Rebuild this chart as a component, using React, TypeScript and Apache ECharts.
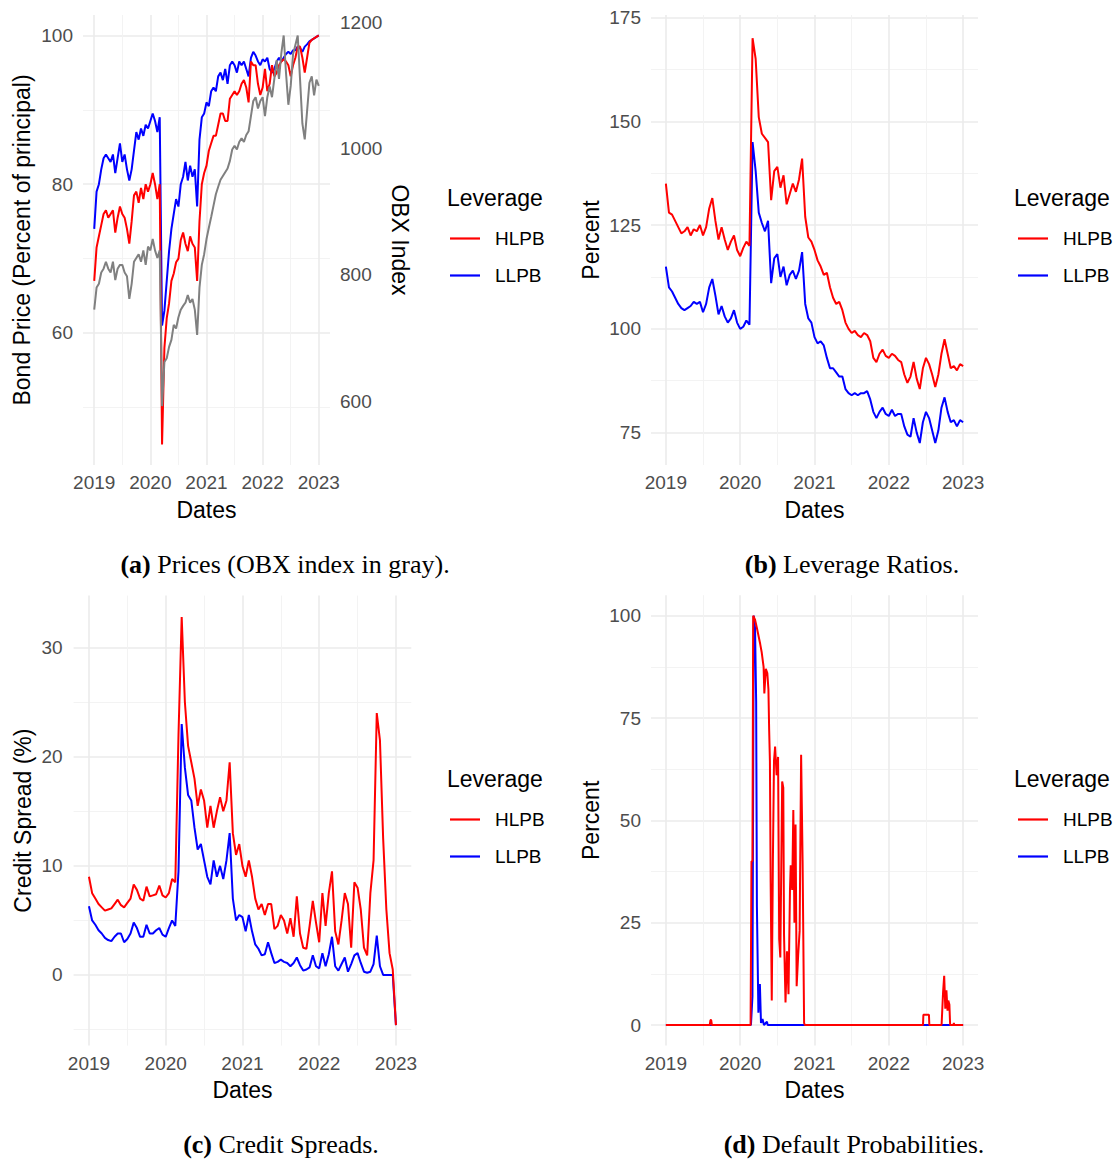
import React, { useEffect, useRef } from 'react';
import * as echarts from 'echarts';

const SANS = '"Liberation Sans", Arial, Helvetica, sans-serif';
const SERIF = '"Liberation Serif", "Times New Roman", Times, serif';

// semi-monthly observation dates (decimal years) shared by panels a, b, c
const dates: number[] = Array.from({ length: 97 }, (_, i) => 2019 + i / 24);

const yearTicks = [2019, 2020, 2021, 2022, 2023];
const halfYearTicks = [2019.5, 2020.5, 2021.5, 2022.5];
const priceTicks = [60, 80, 100];
const priceMinor = [50, 70, 90];
const obxTicks = [600, 800, 1000, 1200];
const levTicks = [75, 100, 125, 150, 175];
const levMinor = [87.5, 112.5, 137.5, 162.5];
const csTicks = [0, 10, 20, 30];
const csMinor = [-5, 5, 15, 25];
const dpTicks = [0, 25, 50, 75, 100];
const dpMinor = [12.5, 37.5, 62.5, 87.5];
const legendNames = ['HLPB', 'LLPB'];
const captions = [
  ['(a)', ' Prices (OBX index in gray).'],
  ['(b)', ' Leverage Ratios.'],
  ['(c)', ' Credit Spreads.'],
  ['(d)', ' Default Probabilities.'],
];

// (a) bond prices, percent of principal
const priceLLPB = [
  74, 79, 80, 82, 83.5, 84, 83.5, 83, 84, 81.5,
  83.5, 85.5, 83, 84, 82, 80.5, 82, 84.5, 87, 86,
  87.5, 86.5, 88, 87.5, 88.5, 89.5, 88.5, 87, 89, 61,
  63, 67, 71, 74, 76, 78, 77, 80, 81, 83,
  80.5, 82.5, 81, 82, 77, 86, 89, 89.5, 91, 90.5,
  92.5, 93, 92.5, 94.5, 95, 94, 95.5, 93.5, 96, 96.5,
  96, 95, 96.5, 96, 96.5, 95.5, 94.5, 97, 97.8, 97.3,
  96.5, 96, 96.8, 96.5, 97, 95.5, 95, 95.5, 96.5, 97,
  96.5, 97, 97.5, 97.8, 97.5, 98, 98, 98.5, 98.3, 97.8,
  98.5, 98.8, 99.2, 99.4, 99.6, 99.8, 100,
];
const priceHLPB = [
  67, 71.5, 73, 74.5, 76, 76.5, 75.5, 76, 76.5, 73.5,
  75.5, 77, 76, 75.5, 74, 72, 75, 78.5, 79, 77.5,
  79.5, 78, 80, 79, 80, 81.5, 80, 78, 80, 45,
  58, 62, 64, 67, 68, 69.5, 70, 72.5, 73.5, 72,
  71, 73, 72, 71.5, 67, 75, 80, 81.5, 82.5, 84.5,
  85.5, 86.5, 86.5, 88, 89.5, 89.5, 88.5, 88.5, 91.5, 92,
  92.5, 92, 92.5, 93.5, 94, 93, 91, 96.5, 96, 96,
  93.5, 92, 93, 95.5, 92.5, 93.5, 96, 94.5, 95, 96,
  96.5, 96.8, 96.5, 96, 94.5, 96, 97, 98.5, 98.5, 97,
  95, 97, 99, 99.4, 99.6, 99.8, 100,
];
const obxIndex = [
  745, 780, 786, 804, 810, 821, 810, 804, 821, 792,
  810, 816, 816, 804, 798, 762, 786, 821, 827, 833,
  821, 839, 816, 845, 839, 857, 839, 827, 839, 592,
  662, 668, 686, 697, 721, 715, 733, 745, 751, 756,
  768, 756, 762, 745, 705, 780, 816, 833, 857, 875,
  892, 910, 928, 940, 951, 957, 963, 969, 981, 999,
  1005, 999, 1011, 1017, 1011, 1022, 1028, 1052, 1076, 1082,
  1064, 1076, 1082, 1052, 1082, 1099, 1082, 1111, 1141, 1111,
  1152, 1180, 1120, 1070, 1100, 1150, 1165, 1180, 1110, 1040,
  1015, 1060, 1105, 1115, 1085, 1110, 1100,
];

// (b) leverage ratios, percent
const levHLPB = [
  135, 128, 127.5, 126, 124.5, 123, 123.5, 124.5, 122.5, 124,
  123.5, 125, 122.5, 124.5, 129, 131.5, 126, 121.5, 124.5, 121.5,
  119, 121, 122.5, 119, 117.5, 119.5, 121, 120, 170, 165,
  151, 147, 146, 145, 131, 138, 139, 134, 137, 130,
  132.5, 135, 133, 136, 141, 127, 122, 121, 119, 116.5,
  115, 113, 113.5, 110, 107.5, 106, 106.5, 104.5, 101.5, 100,
  99, 99.5, 98.5, 98, 99, 98.5, 97, 93, 92, 94,
  95, 93.5, 93, 94, 93.5, 92.5, 92, 89, 87, 88.5,
  92, 88, 85.5, 90.5, 93, 91.5, 89, 86, 89, 94,
  97.5, 94, 90.5, 91, 90, 91.5, 91,
];
const levLLPB = [
  115, 110, 109, 107.5, 106, 105, 104.5, 105, 105.5, 106.5,
  106, 106.5, 104, 106, 110, 112, 108, 103.5, 105.5, 103,
  101.5, 102.5, 104.5, 101.5, 100, 100.5, 102, 101, 145, 138,
  128, 125.5, 123.5, 126, 111, 117, 118, 112.5, 115, 110.5,
  113, 114, 112, 114, 118.5, 106, 102.5, 101.5, 98, 96.5,
  97, 96, 93, 90.5, 90.5, 89.5, 88.5, 88.5, 85.5, 84.5,
  84, 84.5, 84, 84.5, 84.5, 85, 83, 80, 78.5, 80,
  81, 79.5, 79, 80.5, 79, 79.5, 79.5, 76.5, 74.5, 74,
  78.5, 75, 72.5, 77.5, 80, 78.5, 75.5, 72.5, 75.5, 81,
  83.5, 80, 77.5, 78, 76.5, 78, 77.5,
];

// (c) credit spreads, percent
const csHLPB = [
  9, 7.5, 7, 6.5, 6.2, 5.9, 6, 6.1, 6.5, 6.9,
  6.4, 6.2, 6.6, 7, 8.3, 7.8, 7, 6.8, 8.1, 7.2,
  7.3, 7.4, 8.2, 7.3, 7.1, 7.5, 8.8, 8.5, 22, 32.8,
  25, 21, 19.5, 18, 15.5, 17, 16, 13.5, 15.5, 13.5,
  15, 16.3, 15, 16, 19.5, 13, 11, 12, 10, 9,
  10.5, 9, 7, 6, 6.5, 5.5, 6.5, 6.5, 4.2, 4.5,
  5.5, 5, 3.8, 5.2, 3.5, 7.2, 3.8, 2.5, 2.4, 4.5,
  6.8, 4.8, 3, 7.5, 4.5, 7.5, 9.5, 4, 2.8, 5,
  7.5, 6.5, 2.5, 8.5, 8, 6, 2.5, 1.8, 7.5, 10.5,
  24, 21.5, 12.5, 6, 2, 0.5, -4.6,
];
const csLLPB = [
  6.3, 5, 4.6, 4.1, 3.8, 3.4, 3.2, 3.1, 3.5, 3.8,
  3.8, 3, 3.3, 3.8, 4.8, 4.3, 3.5, 3.5, 4.6, 3.8,
  3.8, 4.1, 4.3, 3.7, 3.5, 4.3, 5, 4.5, 9.5, 23,
  19, 16.5, 16, 13.5, 11.5, 12, 10.5, 9, 8.3, 10.5,
  9, 10, 8.8, 10.5, 13, 7, 5, 5.5, 5.3, 4,
  5.5, 4, 2.8, 2.4, 1.8, 1.9, 3, 2, 1.1, 1.2,
  1.4, 1.2, 1.1, 0.8, 1.1, 1.6, 0.9, 0.4, 0.5, 0.7,
  1.8, 0.8, 0.6, 2, 0.8, 1.9, 3.5, 0.8, 0.4, 1,
  1.6, 0.3, 1, 1.8, 2, 1.1, 0.3, 0.2, 0.3, 1,
  3.6, 0.8, 0, 0, 0, 0, -4.6,
];

// (d) default probabilities, percent (irregular dates)
const dpDatesH = [
  2019.0, 2019.59, 2019.6, 2019.61, 2019.62, 2020.14, 2020.152, 2020.165, 2020.175, 2020.2,
  2020.225, 2020.27, 2020.29, 2020.315, 2020.325, 2020.345, 2020.365, 2020.38, 2020.39, 2020.4,
  2020.41, 2020.425, 2020.44, 2020.455, 2020.47, 2020.49, 2020.51, 2020.525, 2020.54, 2020.565,
  2020.58, 2020.59, 2020.61, 2020.63, 2020.65, 2020.67, 2020.68, 2020.7, 2020.715, 2020.73,
  2020.745, 2020.76, 2020.78, 2020.8, 2020.82, 2020.84, 2020.86, 2020.87, 2022.46, 2022.465,
  2022.54, 2022.545, 2022.71, 2022.73, 2022.745, 2022.76, 2022.775, 2022.79, 2022.8, 2022.815,
  2022.825, 2022.87, 2022.875, 2022.88, 2023.0,
];
const dpHLPB = [
  0, 0, 1.2, 1.2, 0, 0, 40, 40, 100, 99,
  97, 93, 91, 87.5, 81, 87, 86, 82, 72, 64.5,
  35, 6, 40, 64.5, 68, 61, 65.5, 21, 16.5, 59.5,
  58, 22, 5.5, 18, 7.5, 33, 39, 33, 52.5, 25,
  49, 9.5, 17, 23, 66, 40, 0.5, 0, 0, 2.5,
  2.5, 0, 0, 8, 12, 4, 8.5, 3.5, 6, 5,
  0, 0, 0.5, 0, 0,
];
const dpDatesL = [
  2019.0, 2020.145, 2020.165, 2020.182, 2020.2, 2020.215, 2020.225, 2020.245, 2020.265, 2020.28,
  2020.3, 2020.32, 2020.36, 2020.37, 2023.0,
];
const dpLLPB = [0, 0, 7, 100, 97, 79, 29, 3, 10, 0.5, 1.5, 0, 0.8, 0, 0];

const RED = '#FF0000';
const BLUE = '#0000FF';
const GRAY = '#808080';
const MAJOR = { color: '#EBEBEB', width: 1.6 };
const MINOR = { color: '#F2F2F2', width: 0.9 };
const tickLabel = { color: '#4D4D4D', fontSize: 19, fontFamily: SANS };
const titleStyle = { color: '#000000', fontSize: 23, fontFamily: SANS };
const X_MIN = 2018.8;
const X_MAX = 2023.2;

const fmt = (v: number) => String(v);

function xPair(gridIndex: number) {
  return [
    {
      type: 'value', gridIndex, min: X_MIN, max: X_MAX, position: 'bottom',
      axisLine: { show: false, onZero: false },
      axisTick: { show: false, customValues: yearTicks },
      axisLabel: { ...tickLabel, margin: 8, customValues: yearTicks, formatter: fmt },
      splitLine: { show: true, lineStyle: MAJOR },
      name: 'Dates', nameLocation: 'middle', nameGap: 33, nameTextStyle: titleStyle,
    },
    {
      type: 'value', gridIndex, min: X_MIN, max: X_MAX, position: 'bottom',
      axisLine: { show: false, onZero: false },
      axisTick: { show: false, customValues: halfYearTicks },
      axisLabel: { show: false, customValues: halfYearTicks },
      splitLine: { show: true, lineStyle: MINOR },
    },
  ];
}

function yPair(gridIndex: number, min: number, max: number, major: number[], minor: number[], name: string, nameGap: number, margin: number) {
  return [
    {
      type: 'value', gridIndex, min, max, position: 'left',
      axisLine: { show: false, onZero: false },
      axisTick: { show: false, customValues: major },
      axisLabel: { ...tickLabel, margin, customValues: major, formatter: fmt },
      splitLine: { show: true, lineStyle: MAJOR },
      name, nameLocation: 'middle', nameGap, nameTextStyle: titleStyle,
    },
    {
      type: 'value', gridIndex, min, max, position: 'left',
      axisLine: { show: false, onZero: false },
      axisTick: { show: false, customValues: minor },
      axisLabel: { show: false, customValues: minor },
      splitLine: { show: true, lineStyle: MINOR },
    },
  ];
}

function line(name: string, color: string, data: number[][], xAxisIndex: number, yAxisIndex: number) {
  return {
    type: 'line', name, xAxisIndex, yAxisIndex, data, color,
    showSymbol: false, symbol: 'none', silent: true,
    lineStyle: { color, width: 2 },
    emphasis: { disabled: true },
  };
}

const pairs = (xs: number[], ys: number[]) => xs.map((x, i) => [x, ys[i]]);

function legend(left: number, top: number) {
  return {
    orient: 'vertical', left, top, padding: 0, icon: 'rect', itemWidth: 30, itemHeight: 2.2, itemGap: 18,
    selectedMode: false, data: legendNames,
    itemStyle: { borderWidth: 0 },
    textStyle: { color: '#000000', fontSize: 19, fontFamily: SANS, lineHeight: 19, padding: [0, 0, 0, 10] },
  };
}

export default function App() {
  const ref = useRef<HTMLDivElement>(null);

  useEffect(() => {
    if (!ref.current) return;
    const chart = echarts.init(ref.current, undefined, { renderer: 'svg' });

    const xAxis = [...xPair(0), ...xPair(1), ...xPair(2), ...xPair(3)];
    const yAxis = [
      ...yPair(0, 42.25, 102.75, priceTicks, priceMinor, 'Bond Price (Percent of principal)', 49.5, 10),
      {
        type: 'value', gridIndex: 0, min: 498.55, max: 1212.45, position: 'right',
        axisLine: { show: false, onZero: false },
        axisTick: { show: false, customValues: obxTicks },
        axisLabel: { ...tickLabel, margin: 10, customValues: obxTicks, formatter: fmt },
        splitLine: { show: false },
        name: 'OBX Index', nameLocation: 'middle', nameGap: 58.5, nameRotate: -90, nameTextStyle: titleStyle,
      },
      ...yPair(1, 67.2, 175.6, levTicks, levMinor, 'Percent', 48.5, 10),
      ...yPair(2, -6.475, 34.775, csTicks, csMinor, 'Credit Spread (%)', 39.5, 11),
      ...yPair(3, -5, 105, dpTicks, dpMinor, 'Percent', 49, 10),
    ];

    const series = [
      line('LLPB', BLUE, pairs(dates, priceLLPB), 0, 0),
      line('HLPB', RED, pairs(dates, priceHLPB), 0, 0),
      line('OBX', GRAY, pairs(dates, obxIndex), 0, 2),
      line('LLPB', BLUE, pairs(dates, levLLPB), 2, 3),
      line('HLPB', RED, pairs(dates, levHLPB), 2, 3),
      line('LLPB', BLUE, pairs(dates, csLLPB), 4, 5),
      line('HLPB', RED, pairs(dates, csHLPB), 4, 5),
      line('LLPB', BLUE, pairs(dpDatesL, dpLLPB), 6, 7),
      line('HLPB', RED, pairs(dpDatesH, dpHLPB), 6, 7),
    ];

    const legendTitlePos = [[447, 198], [1014, 198], [447, 779], [1014, 779]];
    const captionPos = [[285, 564], [852, 564], [281, 1144], [854, 1144]];

    const graphic = [
      ...legendTitlePos.map(([x, y]) => ({
        type: 'text', x, y, silent: true,
        style: { text: 'Leverage', fontSize: 23, fontFamily: SANS, fill: '#000000', align: 'left', verticalAlign: 'middle' },
      })),
      ...captionPos.map(([x, y], i) => ({
        type: 'text', x, y, silent: true,
        style: {
          text: '{b|' + captions[i][0] + '}{n|' + captions[i][1] + '}',
          fontSize: 26, fontFamily: SERIF, fill: '#000000', align: 'center', verticalAlign: 'middle',
          rich: {
            b: { fontSize: 26, fontFamily: SERIF, fontWeight: 'bold', fill: '#000000', color: '#000000' },
            n: { fontSize: 26, fontFamily: SERIF, fontWeight: 'normal', fill: '#000000', color: '#000000' },
          },
        },
      })),
    ];

    chart.setOption({
      animation: false,
      backgroundColor: '#FFFFFF',
      textStyle: { fontFamily: SANS },
      grid: [
        { left: 83, top: 15, width: 247, height: 450, containLabel: false, outerBoundsMode: 'none' },
        { left: 651, top: 15, width: 327, height: 450, containLabel: false, outerBoundsMode: 'none' },
        { left: 73.6, top: 595.6, width: 337.7, height: 450, containLabel: false, outerBoundsMode: 'none' },
        { left: 651, top: 595.2, width: 327, height: 450.3, containLabel: false, outerBoundsMode: 'none' },
      ],
      xAxis,
      yAxis,
      legend: [legend(450, 229), legend(1018, 229), legend(450, 810), legend(1018, 810)],
      series,
      graphic,
    });

    return () => {
      chart.dispose();
    };
  }, []);

  return (
    <div
      ref={ref}
      style={{ position: 'absolute', left: 0, top: 0, width: 1115, height: 1160, background: '#FFFFFF' }}
    />
  );
}
